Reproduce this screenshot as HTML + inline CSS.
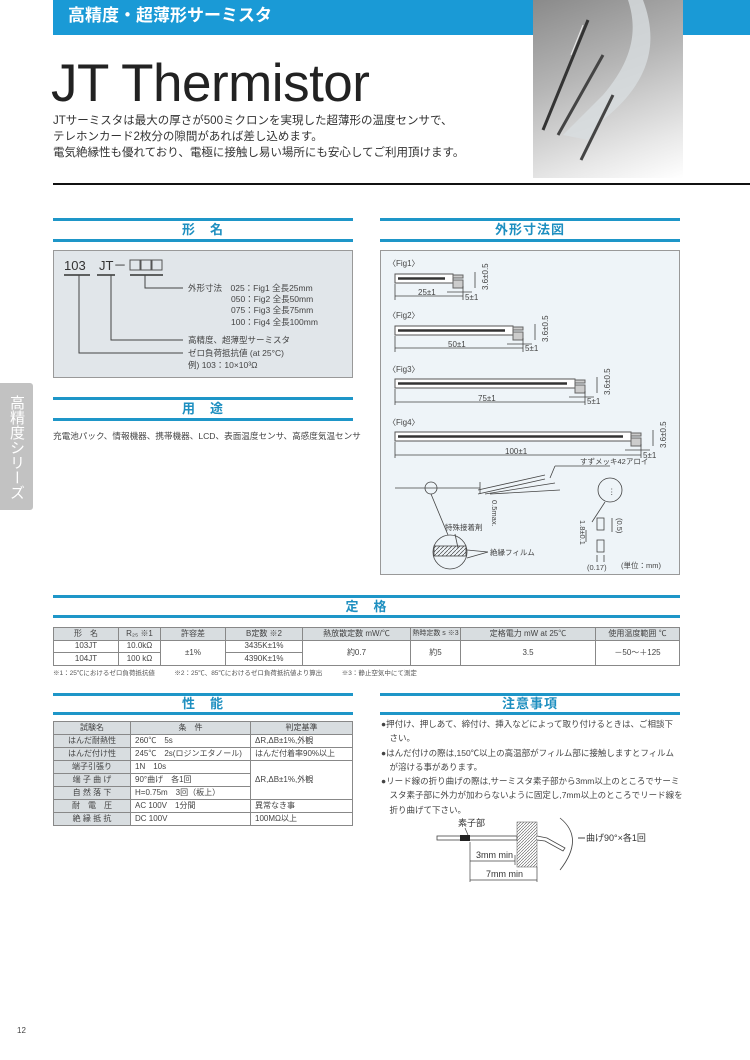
<!DOCTYPE html>
<html><head><meta charset="utf-8"><style>
*{margin:0;padding:0;box-sizing:border-box}
body{width:750px;height:1060px;background:#fff;position:relative;overflow:hidden;font-family:"Liberation Sans","Noto Sans CJK JP",sans-serif;color:#333}
.a{position:absolute}
.hl{position:absolute;height:3px;background:#1e96c8}
.ht{position:absolute;text-align:center;color:#1e8fc0;font-size:13px;line-height:14px;font-weight:bold;letter-spacing:1px}
table{border-collapse:collapse;position:absolute;font-size:8px;color:#444;table-layout:fixed}
td{border:1px solid #888;text-align:center;padding:0;line-height:10px;height:12.5px;white-space:nowrap;overflow:hidden}
.t2 td{height:13px;line-height:12px;text-align:left;padding-left:4px}
.t2 tr td:first-child{background:#d8dde0;text-align:center;padding:0}
.t2 tr:first-child td{text-align:center;background:#d8dde0;padding:0}
.c{font-size:8.5px;color:#444;line-height:14.3px;white-space:nowrap}
</style></head><body>
<div class="a" style="left:53px;top:0;width:697px;height:35px;background:#1a9ad6"></div>
<div class="a" style="left:68px;top:5px;color:#fff;font-size:17px;font-weight:bold;line-height:22px">高精度・超薄形サーミスタ</div>
<div class="a" style="left:533px;top:0;width:150px;height:178px;background:linear-gradient(160deg,#8a8a8a 0%,#b5b5b5 40%,#e8e8e8 80%,#fff 100%)">
<svg width="150" height="178"><path d="M110 0 C125 40 120 80 70 120 L55 140 L30 135 L70 95 C100 60 105 30 95 0Z" fill="#d8dde0" opacity=".8"/><line x1="55" y1="20" x2="10" y2="130" stroke="#333" stroke-width="3"/><line x1="70" y1="55" x2="25" y2="135" stroke="#444" stroke-width="3"/><line x1="80" y1="95" x2="48" y2="160" stroke="#444" stroke-width="3"/><line x1="50" y1="25" x2="38" y2="55" stroke="#eee" stroke-width="1"/></svg></div>
<div class="a" style="left:51px;top:56px;font-size:53px;line-height:56px;color:#222;letter-spacing:-0.5px">JT Thermistor</div>
<div class="a" style="left:53px;top:113px;font-size:11.5px;line-height:16px;color:#333">JTサーミスタは最大の厚さが500ミクロンを実現した超薄形の温度センサで、<br>テレホンカード2枚分の隙間があれば差し込めます。<br>電気絶縁性も優れており、電極に接触し易い場所にも安心してご利用頂けます。</div>
<div class="a" style="left:53px;top:183px;width:697px;height:2px;background:#111"></div>
<div class="a" style="left:0;top:383px;width:33px;height:127px;background:#c2c2c2;border-radius:0 3px 3px 0;color:#fff;font-size:15px;line-height:16px;writing-mode:vertical-rl;padding-top:12px;padding-right:8px;font-family:'Noto Sans CJK JP',sans-serif">高精度シリーズ</div>

<div class="hl" style="left:53px;top:218px;width:300px"></div><div class="ht" style="left:53px;top:223px;width:300px">形　名</div><div class="hl" style="left:53px;top:239px;width:300px"></div>
<div class="a" style="left:53px;top:250px;width:300px;height:128px;background:#e1e6ea;border:1px solid #999"></div>
<svg class="a" style="left:53px;top:250px" width="300" height="128">
<text x="11" y="20" font-size="13" fill="#333" font-family="Liberation Sans">103</text><text x="46" y="20" font-size="13" fill="#333" font-family="Liberation Sans">JT－</text>
<rect x="77" y="10" width="10" height="10" fill="none" stroke="#555"/><rect x="88" y="10" width="10" height="10" fill="none" stroke="#555"/><rect x="99" y="10" width="10" height="10" fill="none" stroke="#555"/>
<g stroke="#333" stroke-width="1.5"><line x1="11" y1="25" x2="37" y2="25"/><line x1="44" y1="25" x2="62" y2="25"/><line x1="77" y1="25" x2="110" y2="25"/></g>
<g stroke="#444" fill="none"><polyline points="92,25 92,38 130,38"/><polyline points="58,25 58,90 130,90"/><polyline points="26,25 26,103 130,103"/></g>
<g font-size="8.5" fill="#444" font-family="Liberation Sans,Noto Sans CJK JP"><text x="135" y="41">外形寸法　025：Fig1 全長25mm</text><text x="178" y="52">050：Fig2 全長50mm</text><text x="178" y="63">075：Fig3 全長75mm</text><text x="178" y="75">100：Fig4 全長100mm</text><text x="135" y="93">高精度、超薄型サーミスタ</text><text x="135" y="106">ゼロ負荷抵抗値 (at 25°C)</text><text x="135" y="118">例) 103：10×10³Ω</text></g></svg>

<div class="hl" style="left:53px;top:397px;width:300px"></div><div class="ht" style="left:53px;top:402px;width:300px">用　途</div><div class="hl" style="left:53px;top:418px;width:300px"></div>
<div class="a" style="left:53px;top:430px;font-size:8.6px;color:#444;white-space:nowrap">充電池パック、情報機器、携帯機器、LCD、表面温度センサ、高感度気温センサ</div>

<div class="hl" style="left:380px;top:218px;width:300px"></div><div class="ht" style="left:380px;top:223px;width:300px">外形寸法図</div><div class="hl" style="left:380px;top:239px;width:300px"></div>
<div class="a" style="left:380px;top:250px;width:300px;height:325px;background:#eef4f8;border:1px solid #999"></div>
<svg class="a" style="left:380px;top:250px" width="300" height="325" font-family="Liberation Sans,Noto Sans CJK JP">
<g font-size="8" fill="#444"><text x="8" y="16">〈Fig1〉</text><text x="8" y="68">〈Fig2〉</text><text x="8" y="122">〈Fig3〉</text><text x="8" y="175">〈Fig4〉</text></g>
<g stroke="#555" fill="#fff"><rect x="15" y="24" width="58" height="9"/><rect x="15" y="76" width="118" height="9"/><rect x="15" y="129" width="180" height="9"/><rect x="15" y="182" width="236" height="9"/></g>
<g stroke="#333" stroke-width="2.5"><line x1="18" y1="28.5" x2="65" y2="28.5"/><line x1="18" y1="80.5" x2="125" y2="80.5"/><line x1="18" y1="133.5" x2="187" y2="133.5"/><line x1="18" y1="186.5" x2="243" y2="186.5"/></g>
<g stroke="#666" fill="#ccc"><rect x="73" y="25" width="10" height="3"/><rect x="73" y="30" width="10" height="8"/><rect x="133" y="77" width="10" height="3"/><rect x="133" y="82" width="10" height="8"/><rect x="195" y="130" width="10" height="3"/><rect x="195" y="135" width="10" height="8"/><rect x="251" y="183" width="10" height="3"/><rect x="251" y="188" width="10" height="8"/></g>
<g stroke="#444" fill="none" stroke-width=".8"><line x1="15" y1="34" x2="15" y2="50"/><line x1="15" y1="46" x2="83" y2="46"/><line x1="83" y1="36" x2="83" y2="50"/><line x1="67" y1="42" x2="92" y2="42"/><line x1="95" y1="22" x2="95" y2="38"/>
<line x1="15" y1="86" x2="15" y2="102"/><line x1="15" y1="98" x2="143" y2="98"/><line x1="143" y1="88" x2="143" y2="102"/><line x1="127" y1="94" x2="152" y2="94"/><line x1="155" y1="74" x2="155" y2="90"/>
<line x1="15" y1="139" x2="15" y2="155"/><line x1="15" y1="152" x2="205" y2="152"/><line x1="205" y1="141" x2="205" y2="155"/><line x1="189" y1="147" x2="214" y2="147"/><line x1="217" y1="127" x2="217" y2="143"/>
<line x1="15" y1="192" x2="15" y2="208"/><line x1="15" y1="205" x2="261" y2="205"/><line x1="261" y1="194" x2="261" y2="208"/><line x1="245" y1="200" x2="270" y2="200"/><line x1="273" y1="180" x2="273" y2="196"/></g>
<g font-size="8" fill="#444"><text x="38" y="45">25±1</text><text x="85" y="50">5±1</text><text x="68" y="97">50±1</text><text x="145" y="101">5±1</text><text x="98" y="151">75±1</text><text x="207" y="154">5±1</text><text x="125" y="204">100±1</text><text x="263" y="208">5±1</text>
<text transform="translate(108,40) rotate(-90)">3.6±0.5</text><text transform="translate(168,92) rotate(-90)">3.6±0.5</text><text transform="translate(230,145) rotate(-90)">3.6±0.5</text><text transform="translate(286,198) rotate(-90)">3.6±0.5</text></g>
<g stroke="#444" fill="none" stroke-width=".8"><line x1="15" y1="238" x2="100" y2="238"/><circle cx="51" cy="238" r="6"/><line x1="100" y1="232" x2="100" y2="244"/><line x1="51" y1="244" x2="68" y2="285"/><circle cx="70" cy="302" r="17"/>
<rect x="54" y="296" width="32" height="10" fill="url(#h)"/><line x1="75" y1="284" x2="78" y2="298"/><line x1="87" y1="300" x2="108" y2="302"/><line x1="87" y1="308" x2="108" y2="302"/>
<line x1="98" y1="240" x2="165" y2="225"/><line x1="98" y1="244" x2="165" y2="229"/><line x1="105" y1="244" x2="175" y2="233"/><line x1="110" y1="244" x2="180" y2="240"/><line x1="175" y1="216" x2="230" y2="216"/><line x1="175" y1="216" x2="170" y2="228"/>
<circle cx="230" cy="240" r="12"/><line x1="225" y1="252" x2="212" y2="272"/><rect x="217" y="268" width="7" height="12"/><rect x="217" y="290" width="7" height="12"/><line x1="206" y1="280" x2="206" y2="292"/><line x1="232" y1="268" x2="232" y2="282"/><line x1="217" y1="305" x2="217" y2="312"/><line x1="224" y1="305" x2="224" y2="312"/></g>
<defs><pattern id="h" width="4" height="4" patternUnits="userSpaceOnUse"><path d="M0 4L4 0" stroke="#444" stroke-width=".7"/></pattern></defs>
<g font-size="7.5" fill="#444"><text transform="translate(112,250) rotate(90)">0.5max.</text><text x="65" y="280">特殊接着剤</text><text x="110" y="305">絶縁フィルム</text><text x="200" y="214">すずメッキ42アロイ</text><text x="228" y="244">⋮</text>
<text transform="translate(200,270) rotate(90)">1.8±0.1</text><text transform="translate(237,268) rotate(90)">(0.5)</text><text x="207" y="320">(0.17)</text><text x="241" y="318">(単位：mm)</text></g></svg>

<div class="hl" style="left:53px;top:595px;width:627px"></div><div class="ht" style="left:53px;top:600px;width:627px">定　格</div><div class="hl" style="left:53px;top:615px;width:627px"></div>
<table style="left:53px;top:627px;width:627px">
<tr style="background:#d8dde0"><td style="width:65px">形　名</td><td style="width:42px">R₂₅ ※1</td><td style="width:65px">許容差</td><td style="width:77px">B定数 ※2</td><td style="width:108px">熱放散定数 mW/℃</td><td style="width:50px;font-size:7px">熱時定数 s ※3</td><td style="width:135px">定格電力 mW at 25℃</td><td>使用温度範囲 ℃</td></tr>
<tr><td>103JT</td><td>10.0kΩ</td><td rowspan="2">±1%</td><td>3435K±1%</td><td rowspan="2">約0.7</td><td rowspan="2">約5</td><td rowspan="2">3.5</td><td rowspan="2">－50～＋125</td></tr>
<tr><td>104JT</td><td>100 kΩ</td><td>4390K±1%</td></tr></table>
<div class="a" style="left:53px;top:667px;font-size:6.5px;color:#555;white-space:nowrap">※1：25℃におけるゼロ負荷抵抗値　　　※2：25℃、85℃におけるゼロ負荷抵抗値より算出　　　※3：静止空気中にて測定</div>

<div class="hl" style="left:53px;top:693px;width:300px"></div><div class="ht" style="left:53px;top:697px;width:300px">性　能</div><div class="hl" style="left:53px;top:712px;width:300px"></div>
<table class="t2" style="left:53px;top:721px;width:300px">
<tr><td style="width:77px">試験名</td><td style="width:120px">条　件</td><td>判定基準</td></tr>
<tr><td>はんだ耐熱性</td><td>260℃　5s</td><td>ΔR,ΔB±1%,外観</td></tr>
<tr><td>はんだ付け性</td><td>245℃　2s(ロジンエタノール)</td><td>はんだ付着率90%以上</td></tr>
<tr><td>端子引張り</td><td>1N　10s</td><td rowspan="3">ΔR,ΔB±1%,外観</td></tr>
<tr><td>端 子 曲 げ</td><td>90°曲げ　各1回</td></tr>
<tr><td>自 然 落 下</td><td>H=0.75m　3回（板上）</td></tr>
<tr><td>耐　電　圧</td><td>AC 100V　1分間</td><td>異常なき事</td></tr>
<tr><td>絶 縁 抵 抗</td><td>DC 100V</td><td>100MΩ以上</td></tr></table>

<div class="hl" style="left:380px;top:693px;width:300px"></div><div class="ht" style="left:380px;top:697px;width:300px">注意事項</div><div class="hl" style="left:380px;top:712px;width:300px"></div>
<div class="a c" style="left:381px;top:717px;width:302px">●押付け、押しあて、締付け、挿入などによって取り付けるときは、ご相談下<br>　さい。<br>●はんだ付けの際は,150℃以上の高温部がフィルム部に接触しますとフィルム<br>　が溶ける事があります。<br>●リード線の折り曲げの際は,サーミスタ素子部から3mm以上のところでサーミ<br>　スタ素子部に外力が加わらないように固定し,7mm以上のところでリード線を<br>　折り曲げて下さい。</div>
<svg class="a" style="left:380px;top:810px" width="300" height="80" font-family="Liberation Sans,Noto Sans CJK JP">
<defs><pattern id="h2" width="3" height="3" patternUnits="userSpaceOnUse"><path d="M0 3L3 0" stroke="#555" stroke-width=".6"/></pattern></defs>
<rect x="57" y="26" width="80" height="4" fill="#fff" stroke="#444" stroke-width=".8"/><rect x="80" y="25" width="10" height="6" fill="#222"/>
<rect x="137" y="12" width="20" height="45" fill="url(#h2)" stroke="#555" stroke-width=".5"/><polyline points="157,26 167,28 185,38 183,41 165,31 157,30" fill="#fff" stroke="#444" stroke-width=".8"/>
<path d="M180 8 Q205 28 180 60" fill="none" stroke="#444" stroke-width=".8"/><line x1="198" y1="28" x2="205" y2="28" stroke="#444"/>
<g stroke="#444" stroke-width=".7"><line x1="90" y1="32" x2="90" y2="72"/><line x1="135" y1="45" x2="135" y2="55"/><line x1="90" y1="51" x2="135" y2="51"/><line x1="157" y1="57" x2="157" y2="72"/><line x1="90" y1="70" x2="157" y2="70"/><line x1="85" y1="18" x2="88" y2="25"/></g>
<g font-size="9" fill="#333"><text x="78" y="16">素子部</text><text x="96" y="48">3mm  min</text><text x="106" y="67">7mm  min</text><text x="206" y="31">曲げ90°×各1回</text></g></svg>
<div class="a" style="left:17px;top:1026px;font-size:8px;color:#444">12</div>
</body></html>
